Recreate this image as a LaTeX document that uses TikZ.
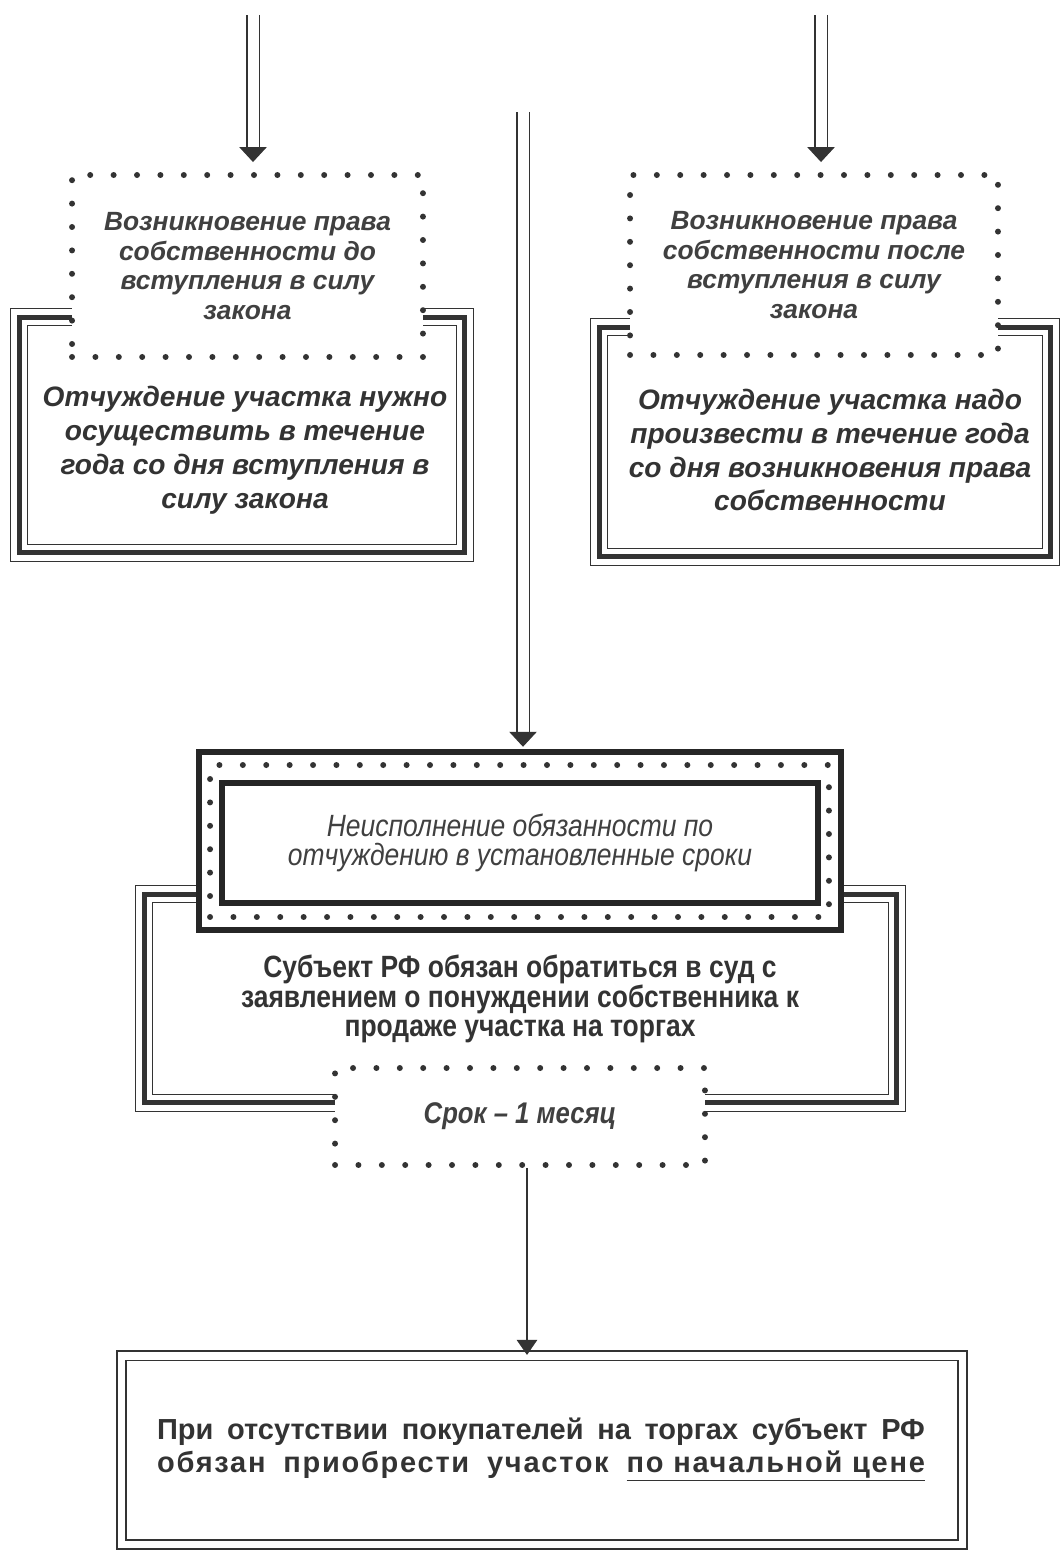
\documentclass[tikz,border=0pt]{standalone}
\usepackage{fontspec}
\setmainfont{Liberation Sans}
\newfontfamily\narrowsans{Liberation Sans}[FakeStretch=0.86]
\usetikzlibrary{arrows.meta}

\begin{document}
\begin{tikzpicture}[x=0.02cm, y=-0.02cm,
    dotbox/.style={draw=black!80, fill=white, line width=3.4pt, line cap=round,
                   dash pattern=on 0pt off 0.468cm, inner sep=0pt, align=center},
    framebox/.style={draw=black!80, line width=0.1cm, inner sep=0pt,
                   preaction={draw=black!80, line width=0.6pt, double=white, double distance=0.33cm}},
    heavy/.style={draw=black!85, line width=0.11cm, inner sep=0pt, align=center},
    dblbox/.style={draw=black!80, line width=0.9pt, double=white, double distance=0.15cm, inner sep=0pt},
    toptxt/.style={text=black!75, font=\fontsize{15}{17}\selectfont\bfseries\itshape},
    frametxt/.style={align=center, text=black!80, font=\fontsize{16}{19.3}\selectfont\bfseries\itshape},
    failtxt/.style={text=black!75, font=\narrowsans\fontsize{17.5}{16.5}\selectfont\itshape},
    dutytxt/.style={align=center, text=black!80, font=\narrowsans\fontsize{17.5}{16.8}\selectfont\bfseries},
    dblarrow/.style={draw=black!80, line width=0.7pt, double=white, double distance=0.22cm,
                   -{Triangle[length=0.3cm, width=0.55cm]}, shorten >=0.2cm},
    arrow/.style={draw=black!80, line width=1.4pt, -{Triangle[length=0.3cm, width=0.4cm]}}]
\useasboundingbox (0,0) rectangle (1062,1551);

% top: ownership before / after the law
\node[framebox, minimum width=8.92cm, minimum height=4.72cm] (frameL) at (242,435) {};
\node[dotbox, toptxt, minimum width=7.02cm, minimum height=3.64cm] (ownL) at (247.5,266)
    {Возникновение права\\собственности до\\вступления в силу\\закона};
\node[frametxt] (alienL) at (245,450)
    {Отчуждение участка нужно\\осуществить в течение\\года со дня вступления в\\силу закона};

\node[framebox, minimum width=9.04cm, minimum height=4.6cm] (frameR) at (825,442) {};
\node[dotbox, toptxt, minimum width=7.36cm, minimum height=3.6cm] (ownR) at (814,265)
    {Возникновение права\\собственности после\\вступления в силу\\закона};
\node[frametxt] (alienR) at (830,450)
    {Отчуждение участка надо\\произвести в течение года\\со дня возникновения права\\собственности};

% middle
\node[framebox, minimum width=15.06cm, minimum height=4.18cm] (dutyframe) at (520.5,998.5) {};
\node[heavy, fill=white, minimum width=12.84cm, minimum height=3.56cm] (failout) at (520,841) {};
\node[dotbox, fill=none, minimum width=12.38cm, minimum height=3.04cm] (faildots) at (519.5,841) {};
\node[heavy, failtxt, minimum width=11.92cm, minimum height=2.4cm] (fail) at (520,843)
    {Неисполнение обязанности по\\отчуждению в установленные сроки};
\node[dutytxt] (duty) at (520,999)
    {Субъект РФ обязан обратиться в суд с\\заявлением о понуждении собственника к\\продаже участка на торгах};
\node[dotbox, failtxt, font=\narrowsans\fontsize{17}{16.5}\selectfont\bfseries\itshape,
      minimum width=7.4cm, minimum height=1.94cm] (term) at (520,1116.5) {Срок – 1 месяц};

% bottom
\node[dblbox, minimum width=16.83cm, minimum height=3.77cm] (final) at (542,1450) {};
\node[align=center, text=black!80, font=\fontsize{16.5}{18.7}\selectfont\bfseries] (buy) at (541,1450)
    {\makebox[15.36cm][s]{При отсутствии покупателей на торгах субъект РФ}\\
     \makebox[15.36cm][s]{\addfontfeature{LetterSpace=6}обязан приобрести участок \underline{по начальной цене}}};

% arrows
\coordinate (ltop) at (253,15);
\coordinate (rtop) at (821,15);
\coordinate (ctop) at (523,112);
\draw[dblarrow] (ltop) -- (ltop |- ownL.north);
\draw[dblarrow] (rtop) -- (rtop |- ownR.north);
\draw[dblarrow, shorten >=0.05cm] (ctop) -- (ctop |- failout.north);
\draw[arrow] ([xshift=0.14cm]term.south) -- ([xshift=0.14cm]term.south |- final.north);
\end{tikzpicture}
\end{document}
